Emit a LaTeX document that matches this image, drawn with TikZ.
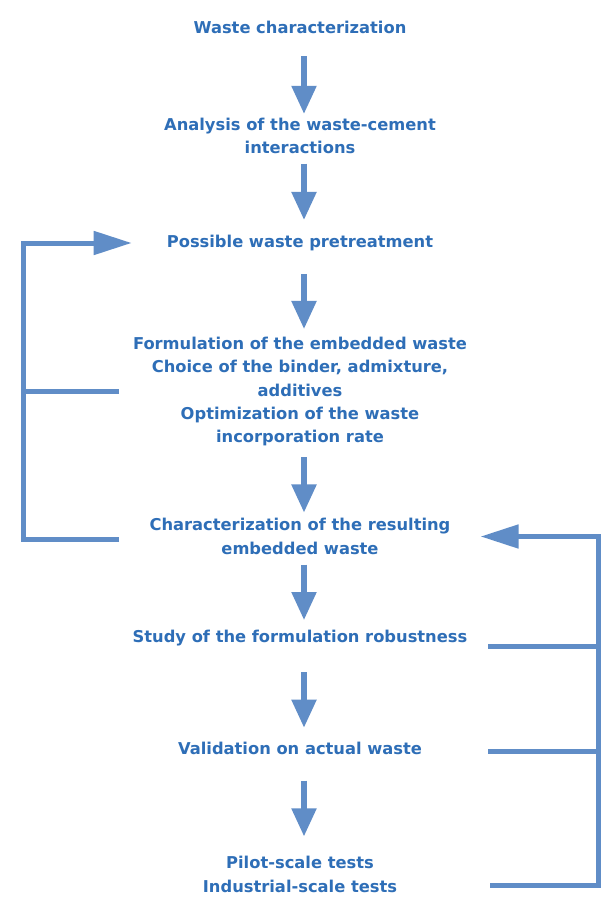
\documentclass[tikz,border=0pt]{standalone}
\usepackage{fontspec}
\setmainfont{DejaVu Sans}
\usetikzlibrary{arrows.meta,calc}
\definecolor{txtblue}{RGB}{46,110,183}
\definecolor{lineblue}{RGB}{96,141,199}
\tikzset{
  stage/.style={align=center, inner sep=0pt, text=txtblue,
    font=\bfseries\fontsize{16.3}{23.3}\selectfont},
  flow/.style={draw=lineblue, line width=5.3pt,
    -{Triangle[width=24pt,length=28pt]}},
  fb/.style={draw=lineblue, line width=5pt, line join=miter},
  fbarrow/.style={fb, -{Triangle[width=23pt,length=38pt]}},
}
\begin{document}
\begin{tikzpicture}[x=1pt,y=-1pt]
\useasboundingbox (0,0) rectangle (600,901);
\fill[white] (0,0) rectangle (600,901);
\node[stage] (t1) at (300,27) {Waste characterization};
\node[stage] (t2) at (300,136) {Analysis of the waste-cement\\interactions};
\node[stage] (t3) at (300,243) {Possible waste pretreatment};
\node[stage] (t4) at (300,391.5) {Formulation of the embedded waste\\Choice of the binder, admixture,\\additives\\Optimization of the waste\\incorporation rate};
\node[stage] (t5) at (300,536.5) {Characterization of the resulting\\embedded waste};
\node[stage] (t6) at (300,638) {Study of the formulation robustness};
\node[stage] (t7) at (300,748) {Validation on actual waste};
\node[stage] (t8) at (300,874.5) {Pilot-scale tests\\Industrial-scale tests};
\coordinate (ax) at (304,0);
\coordinate (L) at (23,0);
\coordinate (LS) at (119,0);
\coordinate (R) at (598,0);
\coordinate (RS) at (488,0);
% main flow
\draw[flow, shorten <=22.85pt, shorten >=4pt] (t1.south -| ax) -- (t2.north -| ax);
\draw[flow, shorten <=9.5pt, shorten >=15pt] (t2.south -| ax) -- (t3.north -| ax);
\draw[flow, shorten <=22.85pt, shorten >=7.85pt] (t3.south -| ax) -- (t4.north -| ax);
\draw[flow, shorten <=11pt, shorten >=5.85pt] (t4.south -| ax) -- (t5.north -| ax);
\draw[flow, shorten <=10pt, shorten >=9.85pt] (t5.south -| ax) -- (t6.north -| ax);
\draw[flow, shorten <=26pt, shorten >=13.85pt] (t6.south -| ax) -- (t7.north -| ax);
\draw[flow, shorten <=26pt, shorten >=20pt] (t7.south -| ax) -- (t8.north -| ax);
% left feedback
\draw[fbarrow, shorten >=35pt] ($(LS |- t5.west)+(0,2.5)$) -| (L |- t3.west) -- (t3.west);
\draw[fb] (LS |- t4.west) -- (L |- t4.west);
% right feedback
\draw[fbarrow, shorten >=30pt] ($(RS |- t8.east)+(2,11)$) -| (R |- t5.east) -- (t5.east);
\draw[fb] ($(RS |- t6.east)+(0,8)$) -- ($(R |- t6.east)+(0,8)$);
\draw[fb] ($(RS |- t7.east)+(0,3)$) -- ($(R |- t7.east)+(0,3)$);
\end{tikzpicture}
\end{document}
